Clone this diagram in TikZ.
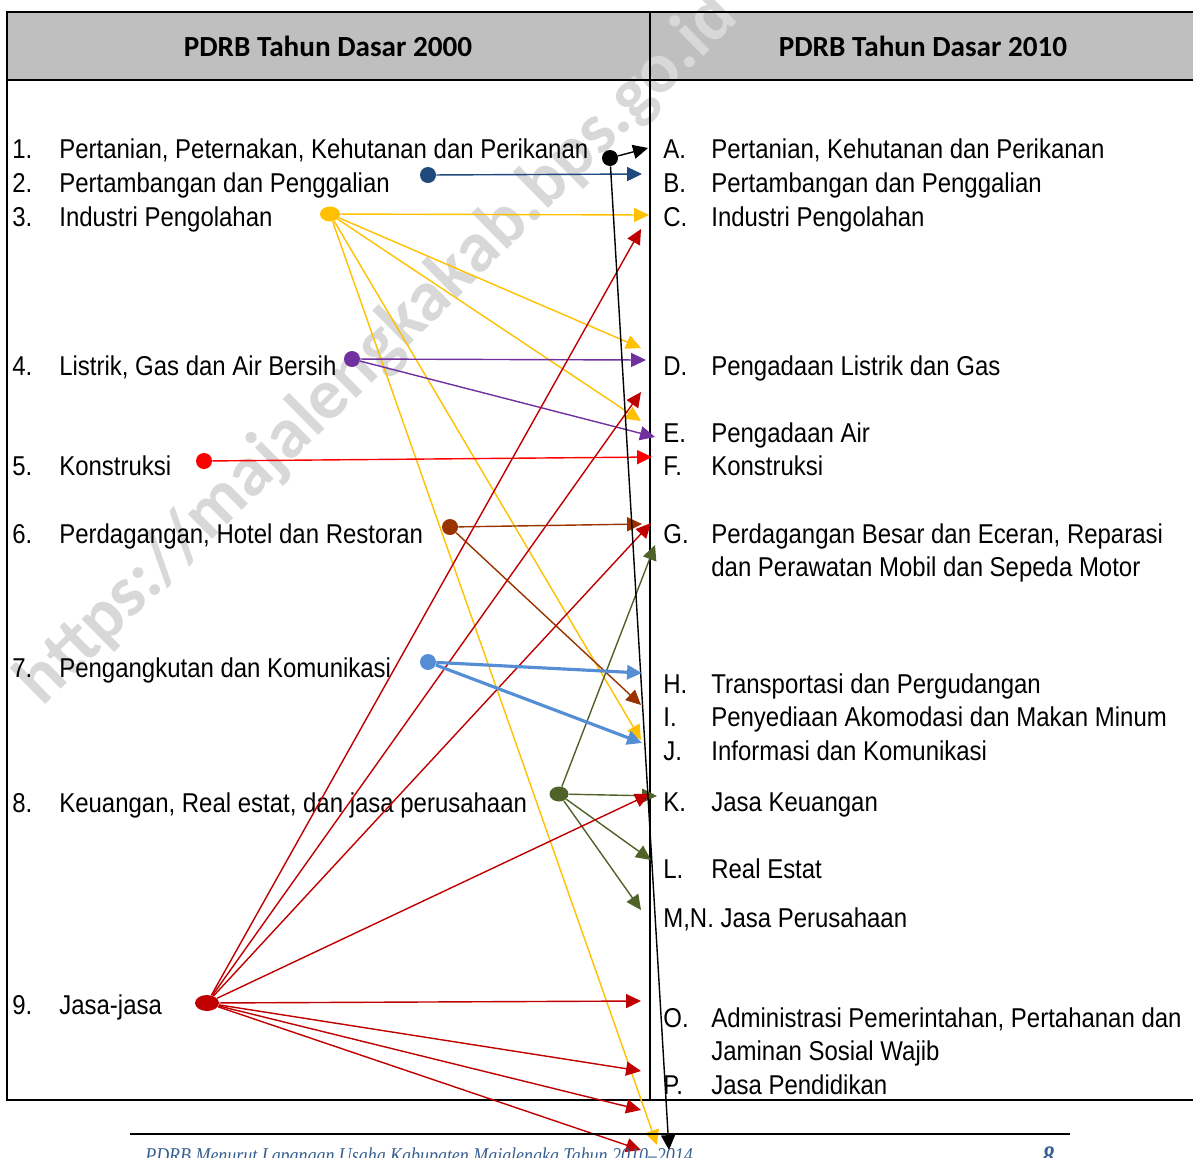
\documentclass[tikz,border=0pt]{standalone}
\usepackage{fontspec}
\setmainfont[FakeStretch=0.88]{Liberation Sans}
\newfontfamily\headfont{Carlito}
\newfontfamily\footfont[FakeStretch=0.85]{Liberation Serif}
\usetikzlibrary{arrows.meta,shapes.geometric}

\definecolor{hdrgray}{RGB}{191,191,191}
\definecolor{markgray}{RGB}{216,216,216}
\definecolor{colnavy}{RGB}{31,73,125}
\definecolor{colamber}{RGB}{255,192,0}
\definecolor{colviolet}{RGB}{112,48,160}
\definecolor{colred}{RGB}{255,0,0}
\definecolor{colrust}{RGB}{153,51,0}
\definecolor{colsky}{RGB}{85,142,213}
\definecolor{cololive}{RGB}{79,98,40}
\definecolor{coldark}{RGB}{192,0,0}
\definecolor{footblue}{RGB}{54,95,145}

\begin{document}
\begin{tikzpicture}[x=0.02cm, y=-0.02cm,
    item/.style={anchor=base west, inner sep=0pt,
                 font=\fontsize{15.5}{19.3}\selectfont},
    head/.style={font=\headfont\bfseries\fontsize{16.6}{20}\selectfont},
    dot/.style={ellipse, fill=#1, inner sep=0pt, minimum width=0.32cm,
                minimum height=0.32cm},
    link/.style={draw=#1, line width=0.8pt,
                 -{Triangle[length=8.5pt, width=8pt]}},
    frame/.style={line width=1.1pt}]
  \useasboundingbox (0,0) rectangle (1193,1157);

  \fill[hdrgray] (7,12) rectangle (1193,80);
  \node[rotate=44.6, text=markgray,
        font=\headfont\bfseries\fontsize{41}{45}\selectfont]
        (mark) at (378,350) {https://majalengkakab.bps.go.id};
  \draw[frame] (1193,12) -- (7,12) -- (7,1100) -- (1193,1100);
  \draw[frame] (7,80) -- (1193,80);
  \draw[frame] (650,12) -- (650,1100);

  \node[head] (hOld) at (328,46) {PDRB Tahun Dasar 2000};
  \node[head] (hNew) at (923,46) {PDRB Tahun Dasar 2010};

  \foreach \k/\y/\t in {1/158/{Pertanian, Peternakan, Kehutanan dan Perikanan},
                        2/192/{Pertambangan dan Penggalian},
                        3/226/{Industri Pengolahan},
                        4/375/{Listrik, Gas dan Air Bersih},
                        5/475/{Konstruksi},
                        6/543/{Perdagangan, Hotel dan Restoran},
                        7/677/{Pengangkutan dan Komunikasi},
                        8/812/{Keuangan, Real estat, dan jasa perusahaan},
                        9/1014/{Jasa-jasa}} {
    \node[item] (num\k) at (12,\y) {\k.};
    \node[item] (old\k) at (59,\y) {\t};
  }

  \foreach \k/\y/\t in {A/158/{Pertanian, Kehutanan dan Perikanan},
                        B/192/{Pertambangan dan Penggalian},
                        C/226/{Industri Pengolahan},
                        D/375/{Pengadaan Listrik dan Gas},
                        E/442/{Pengadaan Air},
                        F/475/{Konstruksi},
                        G/543/{\begin{tabular}[t]{@{}l@{}}Perdagangan Besar dan Eceran, Reparasi\\dan Perawatan Mobil dan Sepeda Motor\end{tabular}},
                        H/693/{Transportasi dan Pergudangan},
                        I/726/{Penyediaan Akomodasi dan Makan Minum},
                        J/760/{Informasi dan Komunikasi},
                        K/811/{Jasa Keuangan},
                        L/878/{Real Estat},
                        O/1027/{\begin{tabular}[t]{@{}l@{}}Administrasi Pemerintahan, Pertahanan dan\\Jaminan Sosial Wajib\end{tabular}},
                        P/1094/{Jasa Pendidikan}} {
    \node[item] (let\k) at (663,\y) {\k.};
    \node[item] (new\k) at (711,\y) {\t};
  }
  \node[item] (newMN) at (663,927) {M,N. Jasa Perusahaan};

  \node[dot=black] (dot1) at (610,158) {};
  \node[dot=colnavy] (dot2) at (428,175) {};
  \node[dot=colamber, minimum width=0.4cm, minimum height=0.3cm] (dot3) at (330,214) {};
  \node[dot=colviolet] (dot4) at (352,359) {};
  \node[dot=colred] (dot5) at (204,461) {};
  \node[dot=colrust] (dot6) at (450,527) {};
  \node[dot=colsky] (dot7) at (428,662) {};
  \node[dot=cololive, minimum width=0.38cm, minimum height=0.3cm] (dot8) at (559,794) {};
  \node[dot=coldark, minimum width=0.48cm, minimum height=0.32cm] (dot9) at (207,1003) {};

  \coordinate (k1) at (648,148);  \coordinate (k2) at (669,1150);
  \coordinate (b1) at (642,174);
  \coordinate (y1) at (649,215);  \coordinate (y2) at (641,348);
  \coordinate (y3) at (641,421);  \coordinate (y4) at (641,740);
  \coordinate (y5) at (657,1145);
  \coordinate (v1) at (646,360);  \coordinate (v2) at (655,437);
  \coordinate (r1) at (652,457);
  \coordinate (u1) at (642,524);  \coordinate (u2) at (641,705);
  \coordinate (s1) at (642,673);  \coordinate (s2) at (642,743);
  \coordinate (g1) at (655,545);  \coordinate (g2) at (657,796);
  \coordinate (g3) at (651,860);  \coordinate (g4) at (641,910);
  \coordinate (c1) at (641,229);  \coordinate (c2) at (641,392);
  \coordinate (c3) at (651,523);  \coordinate (c4) at (650,794);
  \coordinate (c5) at (641,1001); \coordinate (c6) at (641,1071);
  \coordinate (c7) at (641,1110); \coordinate (c8) at (641,1150);

  \foreach \c/\i/\j in {colnavy/dot2/b1,
                        colamber/dot3/y1, colamber/dot3/y2, colamber/dot3/y3,
                        colamber/dot3/y4, colamber/dot3/y5,
                        colviolet/dot4/v1, colviolet/dot4/v2,
                        colred/dot5/r1,
                        colrust/dot6/u1, colrust/dot6/u2,
                        cololive/dot8/g1, cololive/dot8/g2, cololive/dot8/g3,
                        cololive/dot8/g4,
                        coldark/dot9/c1, coldark/dot9/c2, coldark/dot9/c3,
                        coldark/dot9/c4, coldark/dot9/c5, coldark/dot9/c6,
                        coldark/dot9/c7, coldark/dot9/c8,
                        black/dot1/k1, black/dot1/k2} {
    \draw[link=\c] (\i) -- (\j);
  }
  \foreach \j in {s1, s2} {
    \draw[link=colsky, line width=1.8pt] (dot7) -- (\j);
  }

  \draw[line width=0.9pt] (130,1134) -- (1070,1134);
  \node[anchor=base west, inner sep=0pt, text=footblue,
        font=\footfont\itshape\fontsize{12}{14}\selectfont]
        (foot) at (145,1162) {PDRB Menurut Lapangan Usaha Kabupaten Majalengka Tahun 2010\textendash2014};
  \node[anchor=base west, inner sep=0pt, text=footblue,
        font=\footfont\bfseries\itshape\fontsize{16}{18}\selectfont]
        (page) at (1042,1165) {8};
\end{tikzpicture}
\end{document}
